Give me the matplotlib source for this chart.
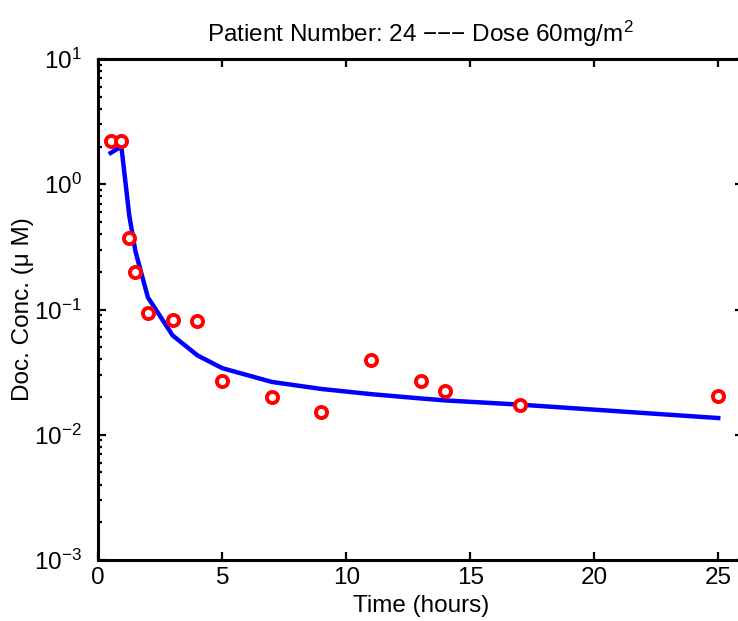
import matplotlib
matplotlib.use("Agg")
import matplotlib.pyplot as plt
import numpy as np
from matplotlib.ticker import LogLocator, NullFormatter

plt.rcParams['font.family'] = ['Liberation Sans', 'DejaVu Sans']
plt.rcParams['mathtext.fontset'] = 'custom'
plt.rcParams['mathtext.rm'] = 'Liberation Sans'
plt.rcParams['mathtext.it'] = 'Liberation Sans:italic'

# measured concentrations (red circles)
t_obs = [0.5, 0.93, 1.25, 1.5, 2, 3, 4, 5, 7, 9, 11, 13, 14, 17, 25]
c_obs = [2.2, 2.2, 0.37, 0.2, 0.094, 0.082, 0.081, 0.027, 0.020, 0.0152,
         0.0395, 0.027, 0.0223, 0.0173, 0.0204]

# model fit (blue line)
t_fit = [0.5, 0.93, 1.25, 1.5, 2, 3, 4, 5, 7, 9, 11, 13, 14, 17, 25]
c_fit = [1.78, 2.0, 0.56, 0.29, 0.125, 0.062, 0.043, 0.034, 0.0264, 0.0232,
         0.0211, 0.0195, 0.0188, 0.0174, 0.0136]

fs = 17.5

fig = plt.figure(figsize=(7.38, 6.21), dpi=100)
ax = fig.add_axes([0.1332, 0.0982, 0.8736, 0.8068])

ax.plot(t_fit, c_fit, color='#0000ff', lw=3.2, zorder=2)
ax.plot(t_obs, c_obs, 'o', ms=8, mfc='white', mec='#ff0000', mew=2.8, zorder=3)

ax.set_yscale('log')
ax.set_xlim(0, 26)
ax.set_ylim(1e-3, 1e1)
ax.set_xticks([0, 5, 10, 15, 20, 25])
ax.yaxis.set_major_locator(LogLocator(base=10, numticks=10))
ax.yaxis.set_minor_locator(LogLocator(base=10, subs=np.arange(2, 10), numticks=10))
ax.yaxis.set_minor_formatter(NullFormatter())

for s in ax.spines.values():
    s.set_linewidth(2.2)
ax.tick_params(which='both', direction='in', top=True, right=True,
               labelsize=fs, width=1.6)
ax.tick_params(which='major', length=6)
ax.tick_params(axis='y', which='major', pad=12)
ax.tick_params(axis='x', which='major', pad=5)
ax.tick_params(which='minor', length=3)

ax.set_xlabel('Time (hours)', fontsize=fs, labelpad=4)
ax.set_ylabel('Doc. Conc. (\u03bc M)', fontsize=fs, labelpad=0)
ax.set_title('Patient Number: 24 \u2212\u2212\u2212 Dose 60mg/m$^2$', fontsize=fs, pad=12)

fig.savefig('out.png', dpi=100)
